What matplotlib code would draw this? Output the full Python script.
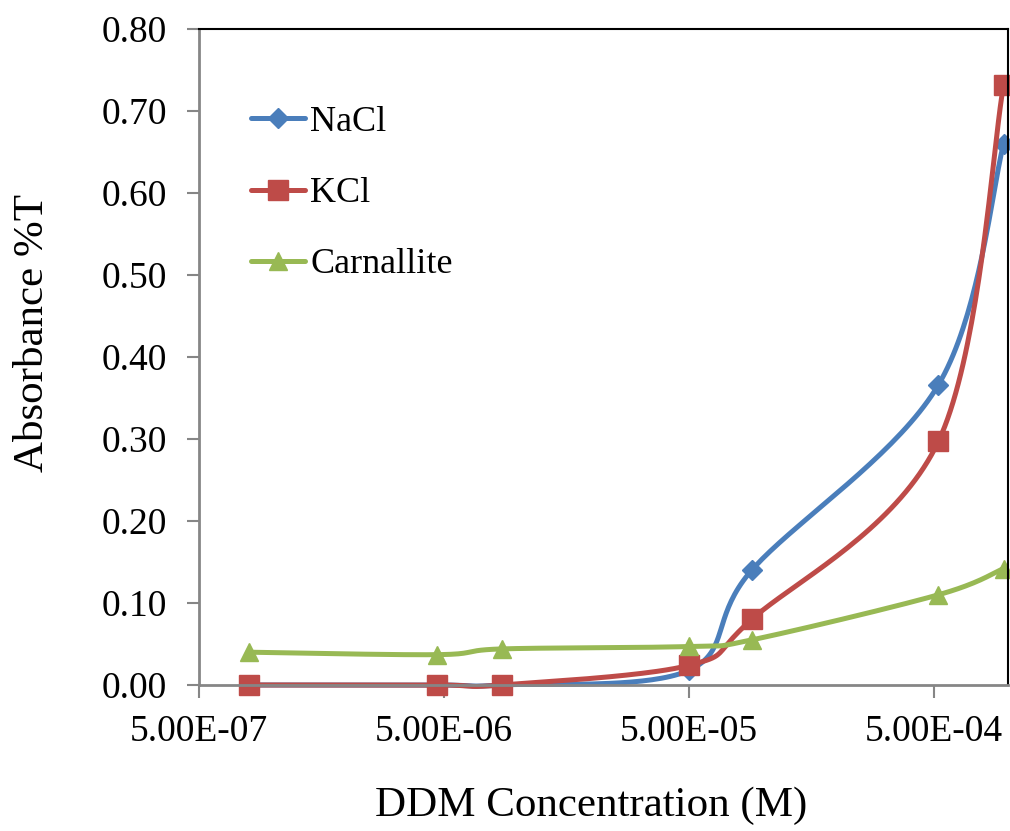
import numpy as np
import matplotlib.pyplot as plt
from matplotlib.ticker import FixedLocator, NullLocator

plt.rcParams['font.family'] = ['Liberation Serif', 'DejaVu Serif']

# dane
conc = [8.0e-7, 4.7e-6, 8.6e-6, 5.0e-5, 9.0e-5, 5.2e-4, 9.6e-4]
nacl = [0.0, 0.0, 0.0, 0.018, 0.140, 0.366, 0.660]
kcl = [0.0, 0.0, 0.0, 0.024, 0.080, 0.297, 0.732]
carnallite = [0.040, 0.037, 0.044, 0.047, 0.055, 0.110, 0.142]

xticks = [5e-7, 5e-6, 5e-5, 5e-4]
xtick_labels = ["5.00E-07", "5.00E-06", "5.00E-05", "5.00E-04"]
yticks = np.round(np.arange(0, 0.81, 0.1), 2)

xmin, xmax = 5e-7, 1e-3
ymin, ymax = 0.0, 0.8

fig = plt.figure(figsize=(10.10, 8.31), dpi=100)
ax = fig.add_axes([0.197, 0.1757, 0.801, 0.7894])
ax.set_xscale('log')
ax.set_xlim(xmin, xmax)
ax.set_ylim(ymin, ymax)

# wygladzanie jak w Excelu (Bezier, w przestrzeni ekranu)
W, H = 809.0, 656.0


def smooth(x, y, n=40):
    u = (np.log10(x) - np.log10(xmin)) / (np.log10(xmax) - np.log10(xmin)) * W
    v = (np.asarray(y) - ymin) / (ymax - ymin) * H
    P = np.column_stack([u, v])
    out = []
    t = np.linspace(0, 1, n)[:, None]
    for i in range(len(P) - 1):
        p0 = P[max(i - 1, 0)]
        p1 = P[i]
        p2 = P[i + 1]
        p3 = P[min(i + 2, len(P) - 1)]
        c1 = p1 + (p2 - p0) / 6
        c2 = p2 - (p3 - p1) / 6
        seg = ((1 - t) ** 3) * p1 + 3 * ((1 - t) ** 2) * t * c1 \
            + 3 * (1 - t) * t ** 2 * c2 + t ** 3 * p2
        out.append(seg if i == 0 else seg[1:])
    S = np.vstack(out)
    xs = 10 ** (S[:, 0] / W * (np.log10(xmax) - np.log10(xmin)) + np.log10(xmin))
    ys = S[:, 1] / H * (ymax - ymin) + ymin
    return xs, ys


series = [
    ("NaCl", nacl, '#4A7EBB', 'D', 10),
    ("KCl", kcl, '#BE4B48', 's', 14.5),
    ("Carnallite", carnallite, '#98B954', '^', 13.5),
]

handles = []
for name, vals, col, mk, ms in series:
    xs, ys = smooth(conc, vals)
    ax.plot(xs, ys, color=col, lw=3.6, solid_capstyle='round', clip_on=False)
    ax.plot(conc, vals, linestyle='none', marker=mk, ms=ms, color=col, clip_on=False)
    h, = ax.plot([], [], color=col, lw=3.6, marker=mk, ms=ms, solid_capstyle='round')
    handles.append(h)

leg = ax.legend(handles, [s[0] for s in series], loc='upper left',
                bbox_to_anchor=(0.046, 0.905), frameon=False, fontsize=26,
                handlelength=1.5, handletextpad=0.15, labelspacing=1.05,
                borderaxespad=0)

# osie
ax.xaxis.set_major_locator(FixedLocator(xticks))
ax.xaxis.set_minor_locator(NullLocator())
ax.set_xticklabels(xtick_labels)
ax.set_yticks(yticks)
ax.set_yticklabels([f"{v:.2f}" for v in yticks])
ax.tick_params(axis='both', labelsize=27, direction='out', length=9,
               width=1.5, color='#868686')
ax.tick_params(axis='x', pad=12)
ax.tick_params(axis='y', pad=14)

for s in ['left', 'bottom']:
    ax.spines[s].set_color('#868686')
    ax.spines[s].set_linewidth(2)
for s in ['top', 'right']:
    ax.spines[s].set_color('black')
    ax.spines[s].set_linewidth(1.5)

fig.text(591 / 1010, 1 - 806 / 831, "DDM Concentration (M)", fontsize=31,
         ha='center', va='center')
fig.text(33 / 1010, 1 - 333 / 831, "Absorbance %T", fontsize=31,
         ha='center', va='center', rotation=90)

plt.savefig("out.png", dpi=100)
